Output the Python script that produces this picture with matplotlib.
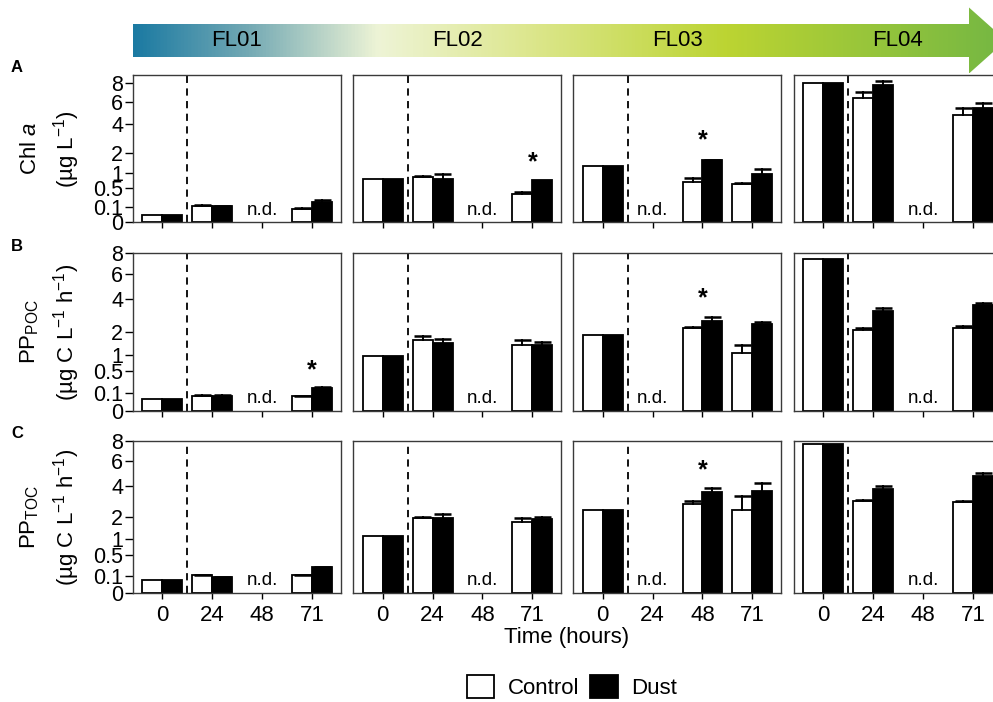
import numpy as np
import matplotlib.pyplot as plt
from matplotlib.colors import LinearSegmentedColormap
from matplotlib.patches import Polygon, Patch
from matplotlib.ticker import NullLocator

plt.rcParams['font.family'] = ['Liberation Sans', 'DejaVu Sans']
plt.rcParams['mathtext.fontset'] = 'custom'
plt.rcParams['mathtext.rm'] = 'Liberation Sans'
plt.rcParams['mathtext.it'] = 'Liberation Sans:italic'
plt.rcParams['mathtext.bf'] = 'Liberation Sans:bold'

nan = np.nan

# data: one list per flight (FL01..FL04), values at 0, 24, 48, 71 h
flights = ['FL01', 'FL02', 'FL03', 'FL04']
times = ['0', '24', '48', '71']
ytick_vals = [0, 0.1, 0.5, 1, 2, 4, 6, 8]
ytick_labels = ['0', '0.1', '0.5', '1', '2', '4', '6', '8']

chl_ctrl = [[0.022, 0.114, nan, 0.073], [0.78, 0.84, nan, 0.325],
            [1.31, nan, 0.66, 0.62], [8.0, 6.43, nan, 4.74]]
chl_dust = [[0.022, 0.11, nan, 0.176], [0.78, 0.765, nan, 0.73],
            [1.33, nan, 1.61, 0.95], [8.0, 7.8, nan, 5.44]]
chl_ctrl_err = [[0, 0.005, nan, 0.015], [0, 0.06, nan, 0.055],
                [0, nan, 0.14, 0.01], [0, 0.63, nan, 0.70]]
chl_dust_err = [[0, 0.005, nan, 0.034], [0, 0.215, nan, 0.0],
                [0, nan, 0.02, 0.23], [0, 0.5, nan, 0.48]]

poc_ctrl = [[0.044, 0.072, nan, 0.069], [0.97, 1.60, nan, 1.40],
            [1.87, nan, 2.23, 1.06], [7.44, 2.09, nan, 2.19]]
poc_dust = [[0.044, 0.072, nan, 0.17], [0.97, 1.48, nan, 1.38],
            [1.87, nan, 2.60, 2.41], [7.44, 3.23, nan, 3.58]]
poc_ctrl_err = [[0, 0.003, nan, 0.003], [0, 0.19, nan, 0.20],
                [0, nan, 0.05, 0.34], [0, 0.10, nan, 0.13]]
poc_dust_err = [[0, 0.003, nan, 0.004], [0, 0.18, nan, 0.15],
                [0, nan, 0.23, 0.13], [0, 0.15, nan, 0.14]]

toc_ctrl = [[0.06, 0.11, nan, 0.11], [1.12, 1.91, nan, 1.74],
            [2.35, nan, 2.71, 2.39], [7.59, 2.94, nan, 2.83]]
toc_dust = [[0.06, 0.09, nan, 0.23], [1.12, 1.92, nan, 1.87],
            [2.35, nan, 3.53, 3.60], [7.59, 3.75, nan, 4.70]]
toc_ctrl_err = [[0, 0.005, nan, 0.003], [0, 0.08, nan, 0.22],
                [0, nan, 0.18, 0.85], [0, 0.06, nan, 0.06]]
toc_dust_err = [[0, 0.003, nan, 0.004], [0, 0.23, nan, 0.14],
                [0, nan, 0.26, 0.59], [0, 0.21, nan, 0.28]]

nd_pos = [2, 2, 1, 2]   # time index with no data, per flight

# significance stars: (row, flight, time index, y)
stars = [(0, 1, 3, 1.84), (0, 2, 2, 3.28), (1, 0, 3, 0.73),
         (1, 2, 2, 4.59), (2, 2, 2, 5.8)]

rows = [
    (chl_ctrl, chl_dust, chl_ctrl_err, chl_dust_err, 9.0,
     'Chl $\\mathit{a}$', '(µg L$^{-1}$)', 'A'),
    (poc_ctrl, poc_dust, poc_ctrl_err, poc_dust_err, 8.0,
     'PP$_{\\mathrm{POC}}$', '(µg C L$^{-1}$ h$^{-1}$)', 'B'),
    (toc_ctrl, toc_dust, toc_ctrl_err, toc_dust_err, 7.95,
     'PP$_{\\mathrm{TOC}}$', '(µg C L$^{-1}$ h$^{-1}$)', 'C'),
]

W, H = 993, 702
fig = plt.figure(figsize=(W / 100, H / 100), dpi=100)

# gradient arrow across the top
arr = fig.add_axes([0, 0, 1, 1])
grad = LinearSegmentedColormap.from_list('flow', [
    (0.0, '#1b7aa2'), (0.13, '#73a9b4'), (0.28, '#eef4d6'),
    (0.45, '#dde78f'), (0.68, '#bcd432'), (1.0, '#74b743')])
im = arr.imshow(np.linspace(0, 1, 512)[None, :], extent=(132.7, 1006, 73, 7),
                aspect='auto', cmap=grad)
pts = [(132.7, 24), (969, 24), (969, 7.5), (1006, 40.5), (969, 73.5),
       (969, 57), (132.7, 57)]
shape = Polygon(pts, closed=True, facecolor='none', edgecolor='none')
arr.add_patch(shape)
im.set_clip_path(shape)
arr.set_xlim(0, W)
arr.set_ylim(H, 0)
arr.axis('off')

col_left = [133, 353.3, 573.3, 794]
col_w = 207.5
row_box = [(75, 222.3), (253.3, 410.7), (441, 593)]

bw = 0.4
cap = 0.17
x = np.arange(4)

for r, (ctrl, dust, ce, de, ytop, lab1, lab2, letter) in enumerate(rows):
    top, bot = row_box[r]
    for c in range(4):
        ax = fig.add_axes([col_left[c] / W, 1 - bot / H, col_w / W, (bot - top) / H])
        ax.set_yscale('function', functions=(lambda v: np.sqrt(np.clip(v, 0, None)),
                                             np.square))
        cv = np.array(ctrl[c]); dv = np.array(dust[c])
        cerr = np.array(ce[c]); derr = np.array(de[c])
        ax.bar(x - bw / 2, cv, bw, color='white', edgecolor='black', linewidth=1.3, zorder=2)
        ax.bar(x + bw / 2, dv, bw, color='black', edgecolor='black', linewidth=1.3, zorder=2)
        for xs, vals, errs in [(x - bw / 2, cv, cerr), (x + bw / 2, dv, derr)]:
            for xi, v, e in zip(xs, vals, errs):
                if np.isnan(v) or e <= 0:
                    continue
                ax.plot([xi, xi], [v, v + e], color='black', lw=1.4, zorder=3)
                ax.plot([xi - cap, xi + cap], [v + e, v + e], color='black', lw=1.8,
                        solid_capstyle='butt', zorder=3)
        ax.axvline(0.5, color='black', lw=1.3, ls=(0, (4, 3)), zorder=1)
        ax.text(nd_pos[c], 0.05, 'n.d.', transform=ax.get_xaxis_transform(),
                ha='center', va='baseline', fontsize=13.5)
        for (sr, sc, si, sy) in stars:
            if sr == r and sc == c:
                ax.annotate('*', (si, sy), xytext=(0, -10), textcoords='offset points',
                            ha='center', va='baseline', fontsize=18, fontweight='bold')
        ax.set_xlim(-0.59, 3.57)
        ax.set_ylim(0, ytop)
        ax.set_xticks(x)
        ax.set_xticklabels(times)
        ax.yaxis.set_minor_locator(NullLocator())
        ax.xaxis.set_minor_locator(NullLocator())
        ax.tick_params(axis='x', direction='out', length=4.5, width=1, pad=4,
                       labelsize=16, labelbottom=(r == 2))
        if c == 0:
            ax.set_yticks(ytick_vals)
            ax.set_yticklabels(ytick_labels)
            ax.tick_params(axis='y', direction='out', length=5.5, width=1, pad=1.5,
                           labelsize=15.5)
        else:
            ax.tick_params(axis='y', left=False, labelleft=False)
        for s in ax.spines.values():
            s.set_color('#3a3a3a')
            s.set_linewidth(1.0)

    yc = 1 - (top + bot) / 2 / H
    fig.text(30 / W, yc, lab1, rotation=90, ha='center', va='center', fontsize=16)
    fig.text(67 / W, yc, lab2, rotation=90, ha='center', va='center', fontsize=16)
    fig.text(17 / W, 1 - (top - 7) / H, letter, ha='center', va='center',
             fontsize=12, fontweight='bold')

for c, name in enumerate(flights):
    arr.text(col_left[c] + col_w / 2, 41, name, ha='center', va='center',
             fontsize=16, zorder=5)

fig.text(567 / W, 1 - 637 / H, 'Time (hours)', ha='center', va='center', fontsize=16)

handles = [Patch(facecolor='white', edgecolor='black', linewidth=1.3, label='Control'),
           Patch(facecolor='black', edgecolor='black', linewidth=1.3, label='Dust')]
fig.legend(handles=handles, loc='center', bbox_to_anchor=(572 / W, 1 - 687 / H),
           ncol=2, frameon=False, fontsize=16, handlelength=1.25, handleheight=1.25,
           handletextpad=0.6, columnspacing=0.5)

fig.savefig('out.png', dpi=100)
